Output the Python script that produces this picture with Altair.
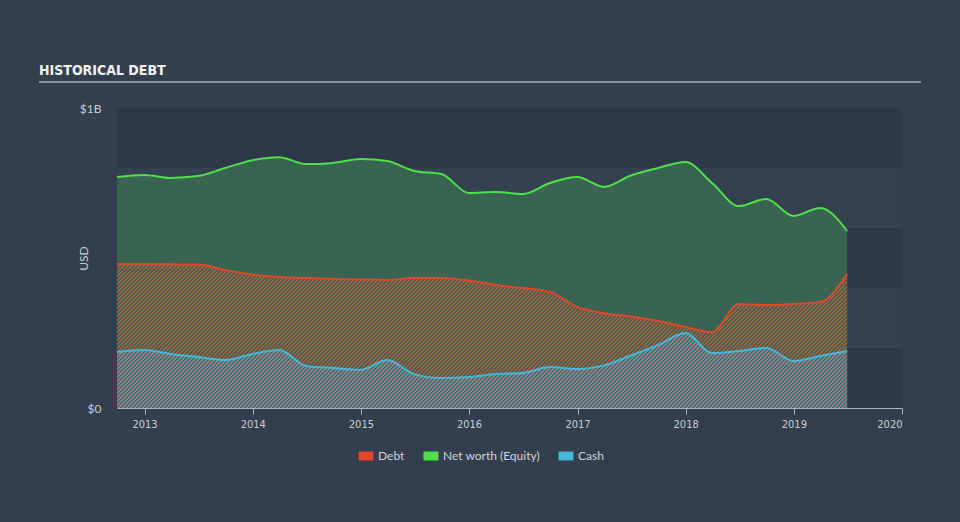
import math
import altair as alt
import pandas as pd

# ---------------- data (USD billions, quarterly) ----------------
dates = ["2012-09-30", "2012-12-31", "2013-03-31", "2013-06-30", "2013-09-30", "2013-12-31",
         "2014-03-31", "2014-06-30", "2014-09-30", "2014-12-31", "2015-03-31", "2015-06-30",
         "2015-09-30", "2015-12-31", "2016-03-31", "2016-06-30", "2016-09-30", "2016-12-31",
         "2017-03-31", "2017-06-30", "2017-09-30", "2017-12-31", "2018-03-31", "2018-06-30",
         "2018-09-30", "2018-12-31", "2019-03-31", "2019-06-30"]
equity_bn = [0.770, 0.777, 0.767, 0.773, 0.800, 0.826, 0.836, 0.813, 0.817, 0.830, 0.823, 0.790,
             0.780, 0.717, 0.720, 0.713, 0.750, 0.770, 0.737, 0.775, 0.800, 0.820, 0.750, 0.673,
             0.697, 0.640, 0.667, 0.590]
debt_bn = [0.480, 0.480, 0.479, 0.478, 0.460, 0.445, 0.437, 0.433, 0.430, 0.428, 0.427, 0.433,
           0.433, 0.425, 0.410, 0.400, 0.387, 0.337, 0.316, 0.305, 0.290, 0.270, 0.253, 0.347,
           0.343, 0.347, 0.353, 0.447]
cash_bn = [0.187, 0.193, 0.180, 0.170, 0.160, 0.180, 0.193, 0.140, 0.133, 0.127, 0.160, 0.113,
           0.100, 0.103, 0.113, 0.117, 0.137, 0.130, 0.142, 0.175, 0.210, 0.250, 0.183, 0.190,
           0.200, 0.157, 0.173, 0.190]

series_names = ["Debt", "Net worth (Equity)", "Cash"]
series_keys = ["debt", "equity", "cash"]
series_colors = ["#e0482c", "#4fe04b", "#46b7db"]
year_ticks = [2013, 2014, 2015, 2016, 2017, 2018, 2019, 2020]
y_ticks = [0, 1]
y_tick_labels = ["$0", "$1B"]
band_starts = [0.0, 0.4, 0.8]
band_span = 0.2
title_text = ["HISTORICAL DEBT"]
x_start, x_end = "2012-09-30", "2020-01-01"

# ---------------- tables ----------------
wide = pd.DataFrame({"date": dates, "equity": equity_bn, "debt": debt_bn, "cash": cash_bn})
long = wide.melt(id_vars="date", value_vars=series_keys, var_name="key", value_name="value")
long["series"] = long["key"].map(dict(zip(series_keys, series_names)))
bands_df = pd.DataFrame({"lo": band_starts, "hi": [b + band_span for b in band_starts]})
title_df = pd.DataFrame({"text": title_text})

W, H = 785, 300
LABEL = "#c9cdd3"
SANS = "Lato, 'Noto Sans', sans-serif"
NARROW = "'DejaVu Sans Condensed', 'Liberation Sans Narrow', sans-serif"
EQUITY_FILL = "#386451"
PERIOD = 4.0


# ---------------- diagonal "/" hatch fill (gradient in the mark's bounding box) ----------------
def hatch(values, stripe, base, shift=0.0, period=PERIOD, frac=0.5):
    t0, t1 = pd.Timestamp(x_start), pd.Timestamp(x_end)
    w = W * (pd.Timestamp(dates[-1]) - pd.Timestamp(dates[0])) / (t1 - t0)
    h = max(values) * H
    r = h / w
    n = int(math.ceil((w + h) / period)) + 1
    D = n * period
    k = D / (w * (1 + r * r))
    sh = (-shift) % period
    stops = []
    for j in range(-1, n + 1):
        p = sh + j * period
        for a, b, col in ((p, p + frac * period, stripe), (p + frac * period, p + period, base)):
            a2, b2 = max(a, 0.0), min(b, D)
            if b2 <= a2:
                continue
            stops += [alt.GradientStop(color=col, offset=a2 / D),
                      alt.GradientStop(color=col, offset=b2 / D)]
    return alt.LinearGradient(gradient="linear", x1=0, y1=0, x2=k, y2=k * r, stops=stops)


top_debt = H * (1 - max(debt_bn))
top_cash = H * (1 - max(cash_bn))
debt_fill = hatch(debt_bn, "#a85c40", EQUITY_FILL, shift=0.5)
cash_fill = hatch(cash_bn, "#48a0ae", "rgba(0,0,0,0)", shift=top_cash - top_debt - 1 + 0.5)

x_scale = alt.Scale(type="utc", domain=[alt.DateTime(year=2012, month=9, date=30, utc=True),
                                        alt.DateTime(year=2020, month=1, date=1, utc=True)])
y_scale = alt.Scale(domain=[0, 1], nice=False)

label_expr = " : ".join(f"datum.value == {v} ? '{t}'" for v, t in zip(y_ticks, y_tick_labels)) + " : ''"

x_axis = alt.Axis(values=[alt.DateTime(year=y, utc=True) for y in year_ticks], format="%Y",
                  grid=False, domainColor="#aeb5bf", tickColor="#aeb5bf", tickSize=6,
                  labelColor=LABEL, labelFont=NARROW, labelFontSize=11, labelPadding=4,
                  title=None)
y_axis = alt.Axis(values=y_ticks, labelExpr=label_expr, domain=False, ticks=False, grid=False,
                  labelPadding=16, labelColor=LABEL, labelFont=SANS, labelFontSize=12,
                  title="USD", titleX=-34, titleY=150, titleAngle=270, titleAlign="center",
                  titleBaseline="middle", titleFont=SANS, titleFontSize=12,
                  titleFontWeight="normal", titleColor=LABEL)

X = alt.X("date:T", scale=x_scale, axis=x_axis)

bands = alt.Chart(bands_df).mark_rect(color="#2d3948").encode(
    x=alt.value(0), x2=alt.value(W),
    y=alt.Y("lo:Q", scale=y_scale, axis=y_axis), y2="hi:Q")

eq_area = alt.Chart(wide).mark_area(color=EQUITY_FILL, interpolate="monotone", opacity=1).encode(
    x=X, y=alt.Y("equity:Q", scale=y_scale, axis=y_axis))
debt_area = alt.Chart(wide).mark_area(color=debt_fill, interpolate="monotone", opacity=1).encode(
    x=X, y=alt.Y("debt:Q", scale=y_scale, axis=y_axis))
cash_area = alt.Chart(wide).mark_area(color=cash_fill, interpolate="monotone", opacity=1).encode(
    x=X, y=alt.Y("cash:Q", scale=y_scale, axis=y_axis))

lines = alt.Chart(long).mark_line(interpolate="monotone", strokeWidth=2).encode(
    x=X, y=alt.Y("value:Q", scale=y_scale, axis=y_axis),
    color=alt.Color("series:N", scale=alt.Scale(domain=series_names, range=series_colors),
                    legend=alt.Legend(title=None, orient="none", legendX=237, legendY=336,
                                      direction="horizontal", symbolType="stroke",
                                      symbolSize=225, symbolStrokeWidth=9, symbolOpacity=1,
                                      labelFont=SANS, labelFontSize=12, labelColor="#d0d4da",
                                      labelOffset=0, columnPadding=0)))

rule_layer = alt.Chart(title_df).mark_rule(color="#aab1ba", strokeWidth=1.5).encode(
    x=alt.value(-78), x2=alt.value(804), y=alt.value(-26))
title_layer = alt.Chart(title_df).mark_text(align="left", baseline="alphabetic", font=NARROW,
                                            fontSize=14, fontWeight="bold", color="#f2f2f2").encode(
    x=alt.value(-78), y=alt.value(-33), text="text:N")

chart = alt.layer(bands, eq_area, debt_area, cash_area, lines, rule_layer, title_layer).properties(
    width=W, height=H, background="#333f4e",
    padding={"left": 117, "top": 108, "right": 58, "bottom": 114},
    autosize=alt.AutoSizeParams(type="none"),
).configure_view(fill="#34414f", strokeWidth=0)

chart.save("out.html", embed_options={"renderer": "svg", "actions": False})
